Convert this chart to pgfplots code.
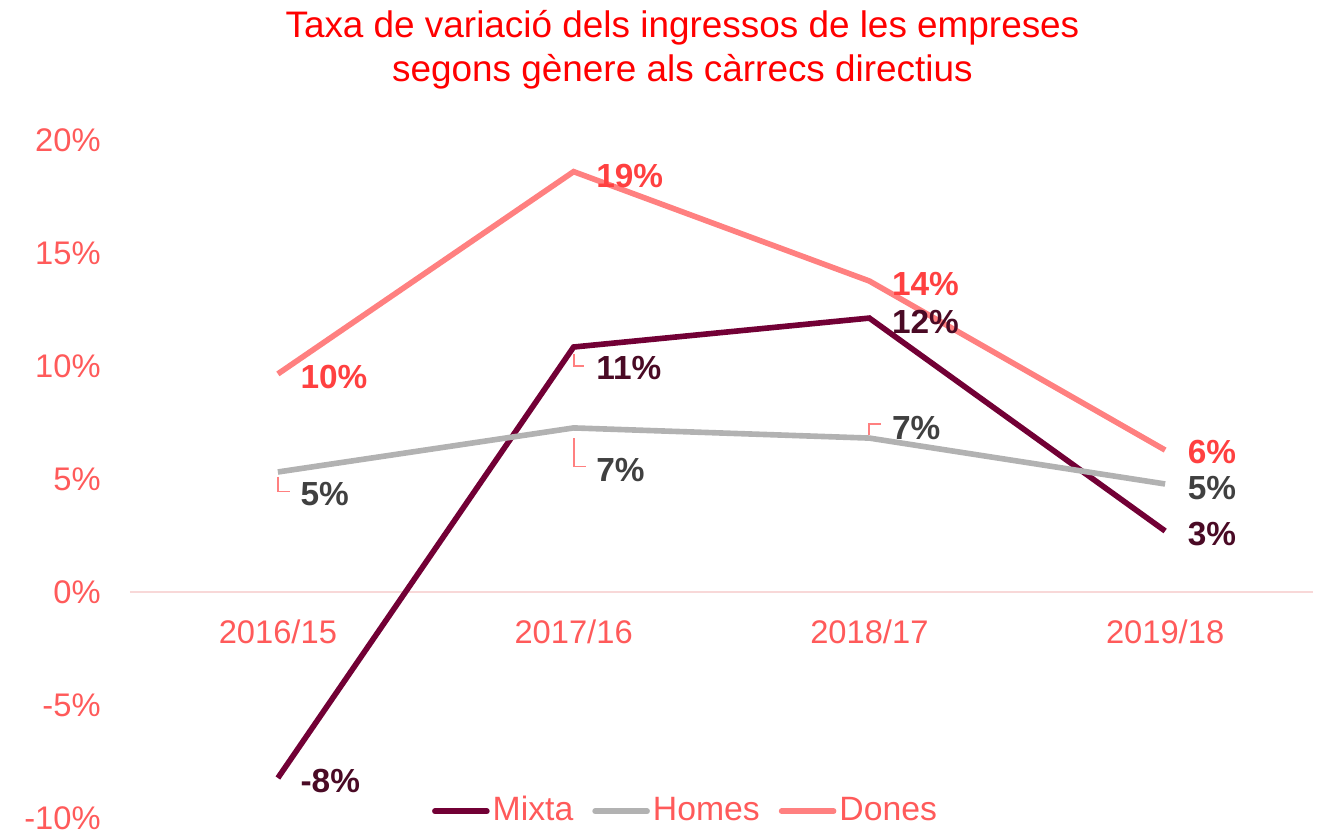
\documentclass[border=0pt]{standalone}
\usepackage{pgfplots}
\pgfplotsset{compat=1.18}
\usepackage{fontspec}
\setmainfont{Liberation Sans}

\definecolor{mixta}{HTML}{720035}
\definecolor{mixtalab}{HTML}{4A0A25}
\definecolor{homes}{HTML}{B2B2B2}
\definecolor{homeslab}{HTML}{404040}
\definecolor{dones}{HTML}{FF8080}
\definecolor{doneslab}{HTML}{FF4040}
\definecolor{ticklab}{HTML}{FF5A5A}
\definecolor{zeroline}{HTML}{F8D8D8}

\begin{document}
\begin{tikzpicture}
% page frame: 1317 x 832 px at 0.1 mm per px, axis box at (0,0)
\path[use as bounding box] (-13mm,-1.4mm) rectangle (118.7mm,81.8mm);
\begin{axis}[
    name=ax,
    scale only axis,
    width=118.3mm,
    height=67.8mm,
    xmin=-0.5, xmax=3.5,
    ymin=-10, ymax=20,
    axis x line=middle,
    axis y line=left,
    x axis line style={-, color=zeroline, line width=0.5pt},
    y axis line style={draw=none},
    major tick length=0pt,
    xtick={0,1,2,3},
    xticklabels={2016/15,2017/16,2018/17,2019/18},
    ytick={-10,-5,0,5,10,15,20},
    yticklabel={\pgfmathprintnumber{\tick}\%},
    /pgf/number format/assume math mode=true,
    ticklabel style={font=\fontsize{9.3}{11}\selectfont, text=ticklab},
    xticklabel style={yshift=-1.5mm},
    yticklabel style={xshift=-1.7mm},
    clip=false,
    legend columns=3,
    legend style={at={(0.47,0.01)}, anchor=center, draw=none, fill=none,
        font=\fontsize{9.6}{11}\selectfont, text=ticklab,
        nodes={inner sep=0.3mm},
        /tikz/every odd column/.append style={column sep=0mm},
        /tikz/every even column/.append style={column sep=1.6mm},
        inner sep=0pt},
    legend image code/.code={\draw[#1, line cap=round] (0mm,0mm) -- (5.2mm,0mm);},
    every axis plot/.append style={line width=1.6pt},
]
    \addplot[mixta, mark=none] coordinates {(0,-8.23) (1,10.84) (2,12.12) (3,2.70)};
    \addlegendentry{Mixta}
    \addplot[homes, mark=none] coordinates {(0,5.31) (1,7.26) (2,6.81) (3,4.78)};
    \addlegendentry{Homes}
    \addplot[dones, mark=none] coordinates {(0,9.65) (1,18.60) (2,13.76) (3,6.28)};
    \addlegendentry{Dones}

    % leader lines
    \draw[dones, line width=0.5pt] (axis cs:0,5.1) -- (axis cs:0,4.45) -- ([xshift=1.2mm]axis cs:0,4.45);
    \draw[dones, line width=0.5pt] (axis cs:1,6.8) -- (axis cs:1,5.55) -- ([xshift=1.2mm]axis cs:1,5.55);
    \draw[dones, line width=0.5pt] (axis cs:1,10.55) -- (axis cs:1,10.0) -- ([xshift=1.0mm]axis cs:1,10.0);
    \draw[dones, line width=0.5pt] (axis cs:2,6.95) -- (axis cs:2,7.45) -- ([xshift=1.2mm]axis cs:2,7.45);

    % data labels
    \tikzset{lab/.style={anchor=west, xshift=2.2mm, inner sep=0pt,
        font=\fontsize{9.5}{12}\selectfont\bfseries}}
    \node[lab, text=doneslab] at (axis cs:0,9.51) {10\%};
    \node[lab, text=doneslab] at (axis cs:1,18.41) {19\%};
    \node[lab, text=doneslab] at (axis cs:2,13.63) {14\%};
    \node[lab, text=doneslab] at (axis cs:3,6.19) {6\%};
    \node[lab, text=homeslab] at (axis cs:0,4.34) {5\%};
    \node[lab, text=homeslab] at (axis cs:1,5.40) {7\%};
    \node[lab, text=homeslab] at (axis cs:2,7.26) {7\%};
    \node[lab, text=homeslab] at (axis cs:3,4.60) {5\%};
    \node[lab, text=mixtalab] at (axis cs:0,-8.37) {-8\%};
    \node[lab, text=mixtalab] at (axis cs:1,9.91) {11\%};
    \node[lab, text=mixtalab] at (axis cs:2,11.95) {12\%};
    \node[lab, text=mixtalab] at (axis cs:3,2.57) {3\%};

    \node[align=center, text=red, font=\fontsize{10.5}{12.4}\selectfont, yshift=9.0mm]
        at (rel axis cs:0.467,1) {Taxa de variació dels ingressos de les empreses\\segons gènere als càrrecs directius};
\end{axis}
\end{tikzpicture}
\end{document}
